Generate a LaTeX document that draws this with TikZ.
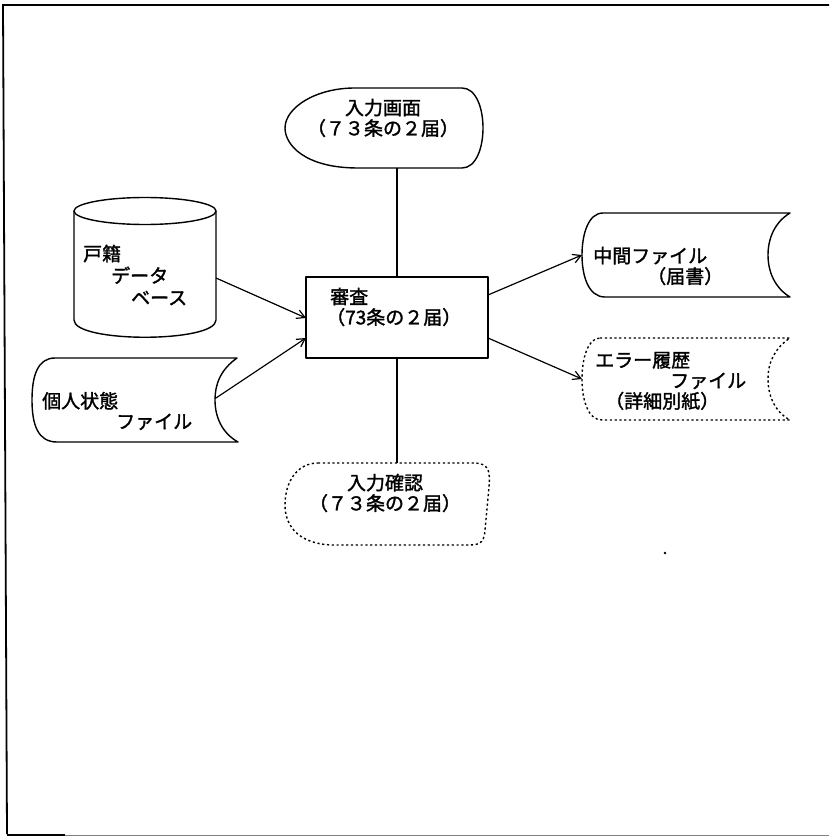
\documentclass[tikz,border=0pt]{standalone}
\usepackage{fontspec}
\newfontfamily\jpf[FakeBold=1.6]{Noto Sans CJK JP}
\usetikzlibrary{arrows.meta}
\begin{document}
\begin{tikzpicture}[x=1pt,y=-1pt,
  shp/.style={line width=1.4pt, line join=round},
  dot/.style={shp, dash pattern=on 2.2pt off 2.6pt},
  txt/.style={font=\jpf\fontsize{19}{20.5}\selectfont, inner sep=0pt, align=left},
  arr/.style={line width=1.2pt, -{Straight Barb[length=8pt,width=9pt]}},
  con/.style={line width=1.2pt}]
\useasboundingbox (0,0) rectangle (829,837);
% frame
\draw[line width=1.8pt] (829,5) -- (3,5) -- (7,834);
\draw[gray, line width=1pt] (7,835) -- (829,835);
\draw[line width=1.2pt] (7,835) -- (65,835);
% display shape
\draw[shp] (355,88) -- (462,88) .. controls (490,88) and (490,168) .. (462,168) -- (358,168) .. controls (305,168) and (285,145) .. (285,128) .. controls (285,108) and (315,88) .. (355,88);
\node[txt, align=center] (tDisp) at (383,118) {入力画面\\（７３条の２届）};
\coordinate (dispB) at (397,168);
% process rectangle
\node[draw, shp, minimum width=182pt, minimum height=81pt, inner sep=0pt] (rect) at (397,317.5) {};
\node[txt, anchor=west] (tRect) at (326,307) {\hspace*{4pt}審査\\（73条の２届）};
% confirm shape (dotted)
\draw[dot] (318,463) -- (473,463) .. controls (490,463) and (490,472) .. (489,487) -- (485,530) .. controls (484,545) and (478,545) .. (465,545) -- (335,545) .. controls (300,545) and (285,527) .. (285,505) .. controls (285,482) and (297,463) .. (318,463);
\node[txt, align=center] (tConf) at (385,493) {入力確認\\（７３条の２届）};
\coordinate (confT) at (397,463);
% cylinder
\draw[shp] (74,211) -- (74,320) .. controls (74,343) and (216,343) .. (216,320) -- (216,211);
\draw[shp] (145,211) ellipse [x radius=71, y radius=13.5];
\node[txt, anchor=west] (tCyl) at (83,275) {戸籍\\[1.5pt]\hspace*{28pt}データ\\[1.5pt]\hspace*{48pt}ベース};
\coordinate (cylR) at (216,278);
% personal state file
\draw[shp] (55,358) -- (237,358) .. controls (220,370) and (215,385) .. (215,400) .. controls (215,417) and (222,433) .. (238,442) -- (57,442) .. controls (38,442) and (32,425) .. (32,400) .. controls (32,375) and (38,358) .. (55,358);
\node[txt, anchor=west] (tFile) at (42,411) {個人状態\\\hspace*{74pt}ファイル};
\coordinate (fileR) at (216,398);
% intermediate file
\draw[shp] (603,213) -- (790,213) .. controls (775,222) and (768,238) .. (768,255) .. controls (768,272) and (775,288) .. (790,297) -- (605,297) .. controls (588,297) and (582,275) .. (582,255) .. controls (582,235) and (588,213) .. (603,213);
\node[txt, anchor=west] (tMid) at (593,266) {中間ファイル\\\hspace*{54pt}（届書）};
\coordinate (midL) at (582,255);
% error history file (dotted)
\draw[dot] (600,338) -- (790,338) .. controls (775,348) and (768,362) .. (768,379) .. controls (768,396) and (775,412) .. (790,420) -- (602,420) .. controls (588,420) and (582,400) .. (582,379) .. controls (582,358) and (588,338) .. (600,338);
\node[txt, anchor=west] (tErr) at (595,381) {エラー履歴\\\hspace*{75pt}ファイル\\\hspace*{10pt}（詳細別紙）};
\coordinate (errL) at (582,379);
% connection points on rectangle
\coordinate (rIn1) at (306,318);
\coordinate (rIn2) at (306,338);
\coordinate (rOut1) at (488,295);
\coordinate (rOut2) at (488,338);
% connectors
\draw[con] (dispB) -- (rect.north);
\draw[con] (rect.south) -- (confT);
\draw[arr] (cylR) -- (rIn1);
\draw[arr] (fileR) -- (rIn2);
\draw[arr] (rOut1) -- (midL);
\draw[arr] (rOut2) -- (errL);
% stray dot
\fill (665,553) circle[radius=1.3];
\end{tikzpicture}
\end{document}
